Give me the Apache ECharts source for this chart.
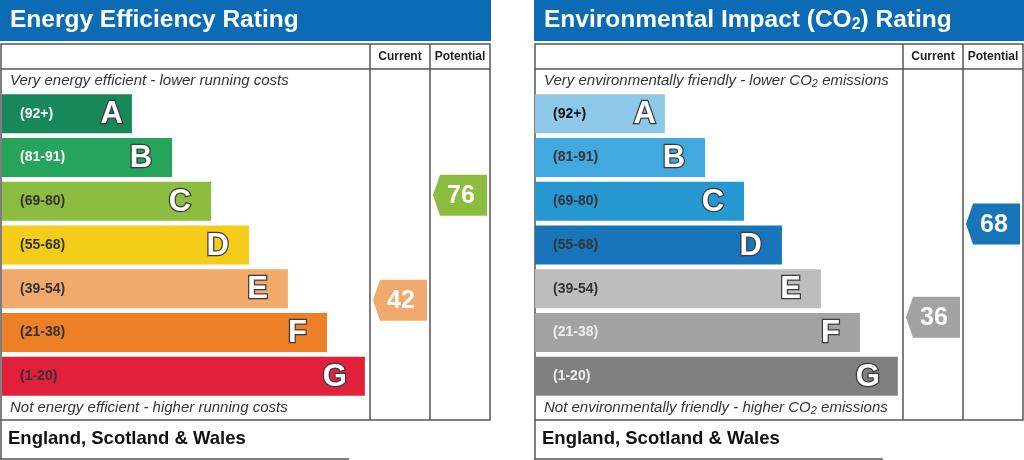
<!DOCTYPE html>
<html>
<head>
<meta charset="utf-8">
<title>Energy Efficiency and Environmental Impact Ratings</title>
<script src="https://cdn.jsdelivr.net/npm/echarts@6/dist/echarts.min.js"></script>
<style>
    html, body { margin: 0; padding: 0; background: #fff; }
    #chart { width: 1024px; height: 460px; }
</style>
</head>
<body>
<div id="chart"></div>
<script>
// rating bands, top (best) to bottom (worst)
const bands = ['A', 'B', 'C', 'D', 'E', 'F', 'G']
const bandRanges = ['(92+)', '(81-91)', '(69-80)', '(55-68)', '(39-54)', '(21-38)', '(1-20)']
const bandMin = [92, 81, 69, 55, 39, 21, 1]
// bar length, share of the bar area
const barLength = [35.3, 46.2, 56.8, 67.1, 77.7, 88.3, 98.6]
const columns = ['Current', 'Potential']

const energyColors = ['#16885a', '#25a45b', '#8dbd40', '#f5cc1a', '#f2a96c', '#ed7f27', '#e1213c']
const energyRangeColors = ['#fff', '#fff', '#333', '#333', '#333', '#333', '#333']
const energyRatings = [42, 76]

const co2Colors = ['#8ec8e9', '#41a9de', '#2598d2', '#1875b9', '#bdbdbd', '#a3a3a3', '#808080']
const co2RangeColors = ['#111', '#333', '#333', '#333', '#333', '#eee', '#eee']
const co2Ratings = [36, 68]

const FONT = 'Arial, "Liberation Sans", Helvetica, sans-serif'

function bandOf(v) {
    for (let i = 0; i < bandMin.length; i++) {
        if (v >= bandMin[i]) return i
    }
    return bandMin.length - 1
}

function bandRenderer(colors, rangeColors) {
    return function (params, api) {
        let i = params.dataIndex
        let start = api.coord([0, i])
        let end = api.coord([api.value(0), i])
        let h = api.size([0, 1])[1] * 0.892
        // the short A bar keeps its letter close to the end
        let inset = i === 0 ? 9 : (i === bands.length - 1 ? 18 : 20)
        return {
            type: 'group',
            children: [
                {
                    type: 'rect',
                    shape: {x: start[0], y: start[1] - h / 2, width: end[0] - start[0], height: h},
                    style: {fill: colors[i]}
                },
                {
                    type: 'text',
                    x: start[0] + 18,
                    y: start[1],
                    style: {text: bandRanges[i], fill: rangeColors[i], font: 'bold 14px ' + FONT, align: 'left', verticalAlign: 'middle'}
                },
                {
                    type: 'text',
                    x: end[0] - inset,
                    y: start[1] + 1,
                    style: {text: bands[i], fill: '#fff', stroke: '#3a3a3a', lineWidth: 2.5, font: 'bold 31px ' + FONT, align: 'right', verticalAlign: 'middle'}
                }
            ]
        }
    }
}

function arrowRenderer(colors) {
    return function (params, api) {
        let v = api.value(1)
        let c = api.coord([api.value(0), v])
        let w = 54, h = 41, tip = 7
        let x0 = c[0] - w / 2
        let x1 = c[0] + w / 2
        return {
            type: 'group',
            children: [
                {
                    type: 'polygon',
                    shape: {points: [[x0, c[1]], [x0 + tip, c[1] - h / 2], [x1, c[1] - h / 2], [x1, c[1] + h / 2], [x0 + tip, c[1] + h / 2]]},
                    style: {fill: colors[bandOf(v)]}
                },
                {
                    type: 'text',
                    x: c[0] + 1,
                    y: c[1] + 1,
                    style: {text: String(v), fill: '#fff', font: 'bold 25px ' + FONT, align: 'center', verticalAlign: 'middle'}
                }
            ]
        }
    }
}

function panelGraphics(p) {
    let line = {stroke: '#555', lineWidth: 1.5}
    let italicRich = {sub: {fontSize: 11, fontFamily: FONT, fontStyle: 'italic', lineHeight: 8, verticalAlign: 'bottom'}}
    return [
        {type: 'rect', shape: {x: p.x0, y: 0, width: p.x1 - p.x0 + 1, height: 41}, style: {fill: '#0b6cb5'}},
        {
            type: 'text', x: p.x0 + 10, y: 20,
            style: {
                text: p.title, fill: '#fff', font: 'bold 24.5px ' + FONT, verticalAlign: 'middle', lineHeight: 26,
                rich: {sub: {fontSize: 16, fontFamily: FONT, fontWeight: 'bold', lineHeight: 10, verticalAlign: 'bottom'}}
            }
        },
        {type: 'rect', shape: {x: p.x0 + 1, y: 44, width: p.x1 - p.x0 - 1, height: 376}, style: Object.assign({fill: 'none'}, line)},
        {type: 'line', shape: {x1: p.x0 + 1, y1: 69, x2: p.x1, y2: 69}, style: line},
        {type: 'line', shape: {x1: p.cols[0], y1: 44, x2: p.cols[0], y2: 420}, style: line},
        {type: 'line', shape: {x1: p.cols[1], y1: 44, x2: p.cols[1], y2: 420}, style: line},
        {
            type: 'text', x: (p.cols[0] + p.cols[1]) / 2, y: 57,
            style: {text: columns[0], fill: '#222', font: 'bold 12px ' + FONT, align: 'center', verticalAlign: 'middle'}
        },
        {
            type: 'text', x: (p.cols[1] + p.x1) / 2, y: 57,
            style: {text: columns[1], fill: '#222', font: 'bold 12px ' + FONT, align: 'center', verticalAlign: 'middle'}
        },
        {
            type: 'text', x: p.x0 + 10, y: 81,
            style: {text: p.top, fill: '#333', font: 'italic 15px ' + FONT, verticalAlign: 'middle', lineHeight: 16, rich: italicRich}
        },
        {
            type: 'text', x: p.x0 + 10, y: 408,
            style: {text: p.bottom, fill: '#333', font: 'italic 15px ' + FONT, verticalAlign: 'middle', lineHeight: 16, rich: italicRich}
        },
        {type: 'line', shape: {x1: p.x0 + 1, y1: 420, x2: p.x0 + 1, y2: 459}, style: line},
        {type: 'line', shape: {x1: p.x0, y1: 459, x2: p.x0 + 349, y2: 459}, style: line},
        {
            type: 'text', x: p.x0 + 8, y: 439,
            style: {text: 'England, Scotland & Wales', fill: '#111', font: 'bold 18.5px ' + FONT, verticalAlign: 'middle'}
        }
    ]
}

let chart = echarts.init(document.getElementById('chart'))

let option = {
    animation: false,
    backgroundColor: '#fff',
    grid: [
        {left: 2, top: 92, width: 368, height: 306},
        {left: 535, top: 92, width: 368, height: 306},
        {left: 370, top: 121, width: 120, height: 309},
        {left: 903, top: 131, width: 120, height: 291}
    ],
    xAxis: [
        {gridIndex: 0, type: 'value', min: 0, max: 100, show: false},
        {gridIndex: 1, type: 'value', min: 0, max: 100, show: false},
        {gridIndex: 2, type: 'category', data: columns, show: false},
        {gridIndex: 3, type: 'category', data: columns, show: false}
    ],
    yAxis: [
        {gridIndex: 0, type: 'category', data: bands, inverse: true, show: false},
        {gridIndex: 1, type: 'category', data: bands, inverse: true, show: false},
        {gridIndex: 2, type: 'value', min: 0, max: 100, show: false},
        {gridIndex: 3, type: 'value', min: 0, max: 100, show: false}
    ],
    graphic: {
        elements: panelGraphics({
            x0: 0, x1: 490, cols: [370, 430],
            title: 'Energy Efficiency Rating',
            top: 'Very energy efficient - lower running costs',
            bottom: 'Not energy efficient - higher running costs'
        }).concat(panelGraphics({
            x0: 534, x1: 1023, cols: [903, 963],
            title: 'Environmental Impact (CO{sub|2}) Rating',
            top: 'Very environmentally friendly - lower CO{sub|2} emissions',
            bottom: 'Not environmentally friendly - higher CO{sub|2} emissions'
        }))
    },
    series: [
        {
            type: 'custom', xAxisIndex: 0, yAxisIndex: 0,
            encode: {x: 0, y: 1},
            data: barLength.map((v, i) => [v, i]),
            renderItem: bandRenderer(energyColors, energyRangeColors)
        },
        {
            type: 'custom', xAxisIndex: 1, yAxisIndex: 1,
            encode: {x: 0, y: 1},
            data: barLength.map((v, i) => [v, i]),
            renderItem: bandRenderer(co2Colors, co2RangeColors)
        },
        {
            type: 'custom', xAxisIndex: 2, yAxisIndex: 2,
            encode: {x: 0, y: 1},
            data: energyRatings.map((v, i) => [i, v]),
            renderItem: arrowRenderer(energyColors)
        },
        {
            type: 'custom', xAxisIndex: 3, yAxisIndex: 3,
            encode: {x: 0, y: 1},
            data: co2Ratings.map((v, i) => [i, v]),
            renderItem: arrowRenderer(co2Colors)
        }
    ]
}

chart.setOption(option)
</script>
</body>
</html>
